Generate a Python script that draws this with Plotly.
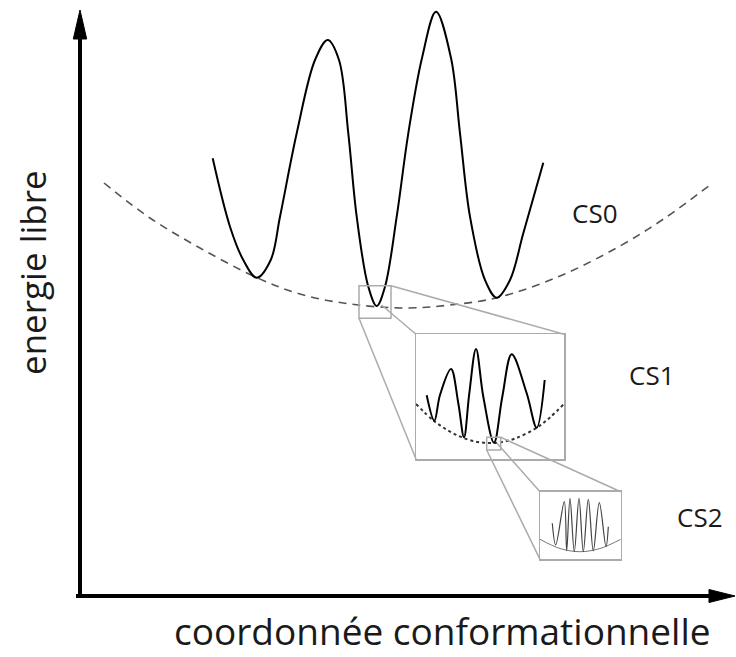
import plotly.graph_objects as go

W, H = 736, 657
FONT = "Open Sans"

# ---- CS0: main free-energy landscape (conformational coordinate, free energy; arbitrary units)
cs0_x = [132.7, 150, 163.3, 176.7, 190.7, 200, 216.7, 235, 247.7, 259, 268.3, 276.7, 288.3, 296.7,
         305, 316.7, 328.3, 342, 356, 371, 380, 390, 405, 416.7, 430, 443.3, 463.3]
cs0_y = [437.7, 369.3, 336, 318.3, 336, 379.3, 462.7, 536, 556, 536, 462.7, 379.3, 309.3, 290,
         309.3, 379.3, 462.7, 538, 584.3, 538, 462.7, 379.3, 316, 298.3, 316, 362.7, 433.3]

# CS0 envelope (dashed)
env0_x = [24, 70, 120, 177, 220, 270, 327, 370, 417, 480, 540, 585, 630]
env0_y = [413, 378, 348, 318.3, 302, 292, 288, 291, 298.3, 320, 350, 378, 411]

# ---- CS1 inset (local units)
cs1_x = [10.7, 18.3, 24, 35, 42.3, 48, 53.3, 60, 67.3, 78, 86.3, 95.7, 110.7, 120.7, 128.7]
cs1_y = [63.7, 38.3, 64, 90, 55.7, 21.7, 65.7, 110, 62.3, 16.3, 62.3, 104.7, 65.7, 31.3, 79]
env1_x = [0, 18, 34, 48, 62, 74, 86, 100, 121, 134, 148]
env1_y = [55, 38, 27.4, 20.8, 17, 16, 17, 20.8, 31.5, 41.6, 55]

# ---- CS2 inset (local units)
cs2_x = [12.3, 15.7, 24.3, 26.7, 30, 34.3, 39, 43.3, 48.3, 53.3, 59.3, 66, 68.3]
cs2_y = [36, 14.3, 57.6, 8.6, 61, 7.6, 61, 7.6, 60, 8.6, 56.6, 12.6, 32.6]
env2_x = [0, 20, 40, 60, 80.7]
env2_y = [20, 10.8, 7.6, 10.8, 20]

# labels
labels = ["CS0", "CS1", "CS2"]
label_x = [515, 571.7, 620]
label_y = [383.5, 221.3, 79.3]
x_title = "coordonnée conformationnelle"
y_title = "energie libre"

# zoom boxes (main units for box 1, CS1-local units for box 2)
box1 = dict(x0=279, x1=311, y0=277.7, y1=310.3)
box2 = dict(x0=70.7, x1=84.7, y0=9, y1=21.7)
# inset windows in pixels of the figure
ins1_px = (416, 564, 334.3, 459)
ins2_px = (540, 620.7, 491.7, 559.3)
# connectors (main units)
conn = [
    (311, 310.3, 484, 261.7),
    (279, 277.7, 336, 137),
    (301.5, 291, 336, 261.7),
    (420.7, 158.7, 540.7, 104.3),
    (406.7, 146, 460, 36.7),
    (417, 152.7, 460, 104.3),
]

GRAY = "#ababab"

fig = go.Figure()
fig.add_trace(go.Scatter(x=env0_x, y=env0_y, mode="lines",
                         line=dict(color="#555555", width=1.6, dash="8px,6px", shape="spline"),
                         xaxis="x", yaxis="y", hoverinfo="skip"))
fig.add_trace(go.Scatter(x=cs0_x, y=cs0_y, mode="lines",
                         line=dict(color="black", width=2, shape="spline", smoothing=1),
                         xaxis="x", yaxis="y", hoverinfo="skip"))
fig.add_trace(go.Scatter(x=env1_x, y=env1_y, mode="lines",
                         line=dict(color="#333333", width=2, dash="dot", shape="spline"),
                         xaxis="x2", yaxis="y2", hoverinfo="skip"))
fig.add_trace(go.Scatter(x=cs1_x, y=cs1_y, mode="lines",
                         line=dict(color="black", width=2, shape="spline", smoothing=1),
                         xaxis="x2", yaxis="y2", hoverinfo="skip"))
fig.add_trace(go.Scatter(x=env2_x, y=env2_y, mode="lines",
                         line=dict(color="#777777", width=1, shape="spline"),
                         xaxis="x3", yaxis="y3", hoverinfo="skip"))
fig.add_trace(go.Scatter(x=cs2_x, y=cs2_y, mode="lines",
                         line=dict(color="#444444", width=1.2, shape="spline", smoothing=1),
                         xaxis="x3", yaxis="y3", hoverinfo="skip"))

shapes = []
# axes with arrows (origin at 0,0)
shapes.append(dict(type="line", xref="x", yref="y", x0=0, y0=-2, x1=0, y1=560,
                   line=dict(color="black", width=4)))
shapes.append(dict(type="line", xref="x", yref="y", x0=-4, y0=0, x1=632, y1=0,
                   line=dict(color="black", width=4)))
shapes.append(dict(type="path", xref="x", yref="y", path="M -6.7 557 L 0 586 L 6.7 557 Z",
                   fillcolor="black", line=dict(color="black", width=1)))
shapes.append(dict(type="path", xref="x", yref="y", path="M 629 6.5 L 655 0 L 629 -6.5 Z",
                   fillcolor="black", line=dict(color="black", width=1)))
shapes.append(dict(type="rect", xref="x", yref="y", line=dict(color=GRAY, width=1.5), **box1))
shapes.append(dict(type="rect", xref="x2", yref="y2", line=dict(color=GRAY, width=1.5), **box2))
for (a, b, c, d) in conn:
    shapes.append(dict(type="line", xref="x", yref="y", x0=a, y0=b, x1=c, y1=d,
                       line=dict(color=GRAY, width=1.5)))

annotations = []
for t, x, y in zip(labels, label_x, label_y):
    annotations.append(dict(text=t, x=x, y=y, xref="x", yref="y", showarrow=False,
                            font=dict(family=FONT, size=26, color="#1a1a1a")))
annotations.append(dict(text=x_title, x=362, y=0, xref="x", yref="paper",
                        yanchor="bottom", showarrow=False, borderpad=0,
                        font=dict(family=FONT, size=37, color="#1a1a1a")))
annotations.append(dict(text=y_title, x=-48, y=323, xref="x", yref="y", showarrow=False,
                        textangle=-90, font=dict(family=FONT, size=35, color="#1a1a1a")))

hidden = dict(visible=False, showgrid=False, zeroline=False)


def inset_axes(px, xr, yr):
    x0, x1, y0, y1 = px
    common = dict(showline=True, mirror=True, linecolor=GRAY, linewidth=1.5,
                  showticklabels=False, ticks="", showgrid=False, zeroline=False)
    xa = dict(domain=[x0 / W, x1 / W], range=xr, **common)
    ya = dict(domain=[1 - y1 / H, 1 - y0 / H], range=yr, **common)
    return xa, ya


xa2, ya2 = inset_axes(ins1_px, [0, ins1_px[1] - ins1_px[0]], [0, ins1_px[3] - ins1_px[2]])
xa3, ya3 = inset_axes(ins2_px, [0, ins2_px[1] - ins2_px[0]], [0, ins2_px[3] - ins2_px[2]])
xa2["anchor"] = "y2"; ya2["anchor"] = "x2"
xa3["anchor"] = "y3"; ya3["anchor"] = "x3"

fig.update_layout(
    width=W, height=H, margin=dict(l=0, r=0, t=0, b=0),
    paper_bgcolor="white", plot_bgcolor="white", showlegend=False,
    xaxis=dict(domain=[0, 1], range=[-80, 656], **hidden),
    yaxis=dict(domain=[0, 1], range=[-61, 596], **hidden),
    xaxis2=xa2, yaxis2=ya2, xaxis3=xa3, yaxis3=ya3,
    shapes=shapes, annotations=annotations,
)

fig.write_html("out.html",
               config={"displayModeBar": False, "staticPlot": True},
               post_script="document.body.style.margin='0';document.body.style.padding='0';"
                           "document.body.style.overflow='hidden';")
